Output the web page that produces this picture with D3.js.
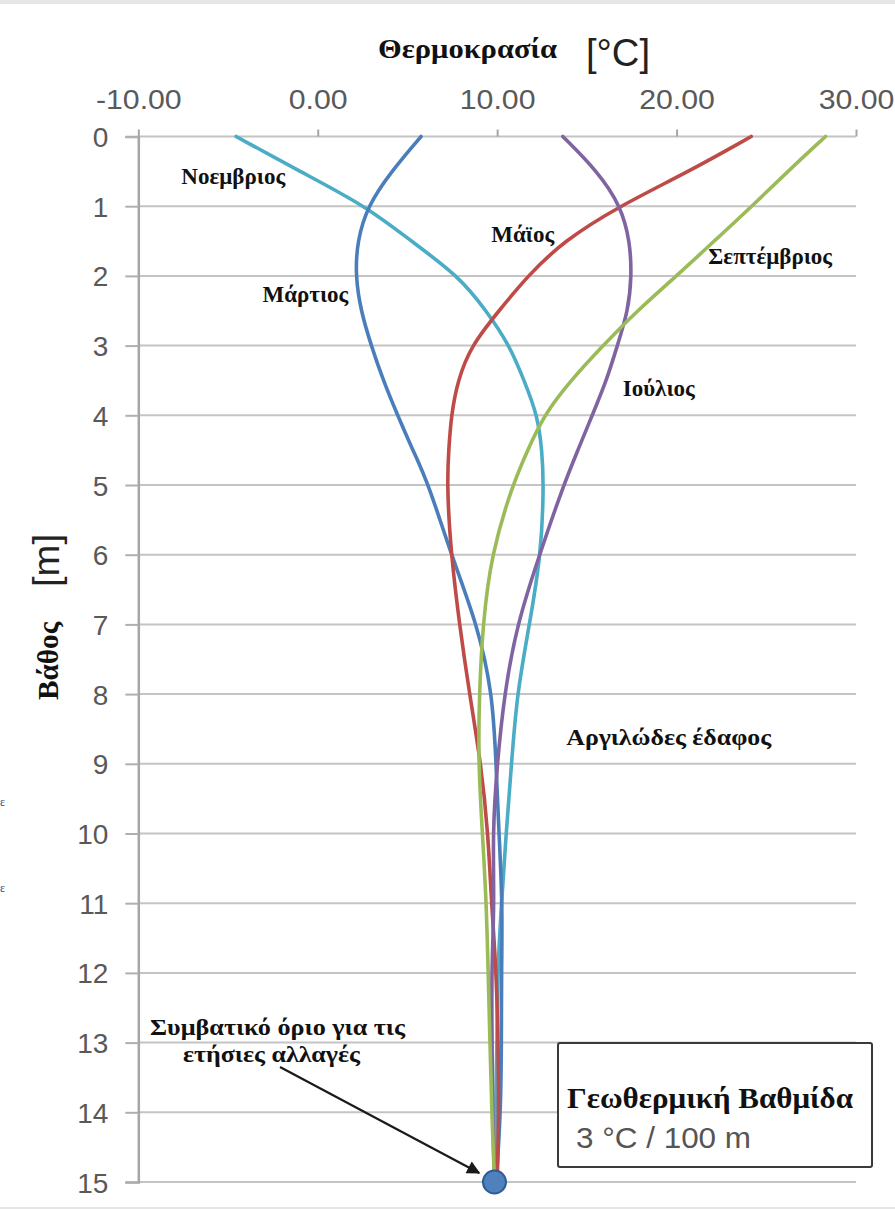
<!DOCTYPE html>
<html>
<head>
<meta charset="utf-8">
<script src="https://cdn.jsdelivr.net/npm/d3@7"></script>
<style>
  body { margin: 0; background: #fff; }
  svg { display: block; }
</style>
</head>
<body>
<div id="chart"></div>
<script>
// depth (m) down the y axis, temperature (°C) along x
const depths = [0, 0.5, 1, 1.5, 2, 2.5, 3, 3.5, 4, 4.5, 5, 6, 7, 8, 9, 10, 11, 12, 13, 14, 15];

const novTemps = [-4.55, -1.0, 2.7, 5.2, 7.85, 9.4, 10.7, 11.5, 12.25, 12.5, 12.6, 12.45, 11.8, 11.1, 10.8, 10.5, 10.24, 10.02, 10.0, 9.9, 9.9];
const marTemps = [5.76, 4.1, 2.77, 2.2, 2.1, 2.4, 2.98, 3.65, 4.45, 5.3, 6.2, 7.43, 8.9, 9.75, 9.94, 10.1, 10.3, 10.24, 10.24, 10.2, 9.95];
const mayTemps = [24.16, 20.7, 16.8, 13.7, 11.7, 10.1, 8.55, 7.8, 7.44, 7.3, 7.2, 7.43, 7.9, 8.46, 9.1, 9.5, 9.68, 9.96, 10.05, 10.1, 10.0];
const julTemps = [13.66, 15.6, 16.9, 17.4, 17.5, 17.3, 16.7, 16.1, 15.3, 14.5, 13.7, 12.36, 11.1, 10.4, 10.0, 9.74, 9.85, 9.68, 9.72, 9.74, 9.85];
const sepTemps = [28.3, 26.2, 24.2, 22.1, 20.0, 17.8, 15.9, 14.1, 12.6, 11.7, 10.85, 9.67, 9.2, 9.0, 8.95, 9.18, 9.4, 9.5, 9.6, 9.7, 9.85];

const seriesNames = ["Νοεμβριος", "Μάρτιος", "Μάϊος", "Ιούλιος", "Σεπτέμβριος"];
const seriesColors = ["#4bacc6", "#4a7ebb", "#be4b48", "#8064a2", "#9bbb59"];
const seriesTemps = [novTemps, marTemps, mayTemps, julTemps, sepTemps];

// where each month's name sits (temp at start of word, depth of baseline)
const labelTemps = [-7.6, -3.08, 9.67, 17.0, 21.77];
const labelDepths = [0.68, 2.37, 1.51, 3.72, 1.83];

const xTicks = [-10, 0, 10, 20, 30];
const yTicks = d3.range(0, 16);

const W = 895, H = 1210;
const serif = "'Liberation Serif', 'Times New Roman', serif";
const sans = "'Liberation Sans', Arial, sans-serif";

const svg = d3.select("#chart").append("svg").attr("width", W).attr("height", H);

const x = d3.scaleLinear().domain([-10, 30]).range([138.3, 856]);
const y = d3.scaleLinear().domain([0, 15]).range([136.5, 1182]);

// faint frame lines of the scanned figure
svg.append("line").attr("x1", 0).attr("x2", W).attr("y1", 2).attr("y2", 2)
  .attr("stroke", "#e6e6e6").attr("stroke-width", 4);
svg.append("line").attr("x1", 0).attr("x2", W).attr("y1", 1208).attr("y2", 1208)
  .attr("stroke", "#e6e6e6").attr("stroke-width", 2);

// horizontal grid
svg.append("g").selectAll("line").data(yTicks).join("line")
  .attr("x1", x(-10)).attr("x2", x(30))
  .attr("y1", d => y(d)).attr("y2", d => y(d))
  .attr("stroke", "#c4c4c4").attr("stroke-width", 2);

// top axis
const xAxisG = svg.append("g").attr("transform", `translate(0,${y(0)})`)
  .call(d3.axisTop(x).tickValues(xTicks).tickFormat(d => d.toFixed(2)).tickSize(7).tickPadding(21));
xAxisG.select(".domain").remove();
xAxisG.selectAll("line").attr("stroke", "#a6a6a6").attr("stroke-width", 2);
xAxisG.selectAll("text").attr("fill", "#595959")
  .style("font-family", sans).style("font-size", "27px")
  .each(function () { d3.select(this).attr("textLength", this.getComputedTextLength() * 1.12).attr("lengthAdjust", "spacingAndGlyphs"); });

// left axis
const yAxisG = svg.append("g").attr("transform", `translate(${x(-10)},0)`)
  .call(d3.axisLeft(y).tickValues(yTicks).tickFormat(d3.format("d")).tickSize(13).tickPadding(17));
yAxisG.select(".domain").attr("stroke", "#a6a6a6").attr("stroke-width", 2.5);
yAxisG.selectAll("line").attr("stroke", "#b0b0b0").attr("stroke-width", 2);
yAxisG.selectAll("text").attr("fill", "#595959").attr("dy", "0.36em")
  .style("font-family", sans).style("font-size", "28px");

// axis titles
svg.append("text").attr("x", 378).attr("y", 58).text("Θερμοκρασία")
  .attr("fill", "#111").attr("textLength", 179).attr("lengthAdjust", "spacingAndGlyphs")
  .style("font-family", serif).style("font-weight", "bold").style("font-size", "27px");
svg.append("text").attr("x", 586).attr("y", 66).text("[°C]")
  .attr("fill", "#222").attr("textLength", 64).attr("lengthAdjust", "spacingAndGlyphs")
  .style("font-family", sans).style("font-size", "38px");

const ytitle = svg.append("g").attr("transform", "translate(58,700) rotate(-90)");
ytitle.append("text").attr("x", 0).attr("y", 0).text("Βάθος")
  .attr("fill", "#111").attr("textLength", 78).attr("lengthAdjust", "spacingAndGlyphs")
  .style("font-family", serif).style("font-weight", "bold").style("font-size", "29px");
ytitle.append("text").attr("x", 113).attr("y", 1).text("[m]")
  .attr("fill", "#222").attr("textLength", 53).attr("lengthAdjust", "spacingAndGlyphs")
  .style("font-family", sans).style("font-size", "37px");

// profiles
const line = d3.line()
  .x(d => x(d[0]))
  .y(d => y(d[1]))
  .curve(d3.curveBasis);

svg.append("g").selectAll("path")
  .data(seriesTemps.map((temps, i) => ({ color: seriesColors[i], pts: temps.map((t, j) => [t, depths[j]]) })))
  .join("path")
  .attr("d", d => line(d.pts))
  .attr("fill", "none")
  .attr("stroke", d => d.color)
  .attr("stroke-width", 3.6)
  .attr("stroke-linejoin", "round")
  .attr("stroke-linecap", "round");

// month labels
svg.append("g").selectAll("text").data(seriesNames).join("text")
  .attr("x", (d, i) => x(labelTemps[i]))
  .attr("y", (d, i) => y(labelDepths[i]))
  .text(d => d)
  .attr("fill", "#111")
  .style("font-family", serif).style("font-weight", "bold").style("font-size", "23px");

svg.append("text").attr("x", x(13.85)).attr("y", y(8.73)).text("Αργιλώδες έδαφος")
  .attr("fill", "#111").attr("textLength", 205).attr("lengthAdjust", "spacingAndGlyphs")
  .style("font-family", serif).style("font-weight", "bold").style("font-size", "24px");

// stray glyphs at the left margin of the scan
svg.append("g").selectAll("text").data([801, 887]).join("text")
  .attr("x", 0).attr("y", d => d + 5).text("ε")
  .attr("fill", "#3a4a7a").style("font-family", serif).style("font-size", "12px");

// annotation: conventional limit of yearly change
svg.append("text").attr("x", 150).attr("y", 1035).text("Συμβατικό όριο για τις")
  .attr("fill", "#111").attr("textLength", 255).attr("lengthAdjust", "spacingAndGlyphs")
  .style("font-family", serif).style("font-weight", "bold").style("font-size", "24px");
svg.append("text").attr("x", 183).attr("y", 1062).text("ετήσιες αλλαγές")
  .attr("fill", "#111").attr("textLength", 177).attr("lengthAdjust", "spacingAndGlyphs")
  .style("font-family", serif).style("font-weight", "bold").style("font-size", "24px");

svg.append("defs").append("marker")
  .attr("id", "arrow").attr("viewBox", "0 0 10 10").attr("refX", 9).attr("refY", 5)
  .attr("markerWidth", 8).attr("markerHeight", 6).attr("orient", "auto")
  .attr("markerUnits", "strokeWidth")
  .append("path").attr("d", "M0,0 L10,5 L0,10 Z").attr("fill", "#1a1a1a");

svg.append("line")
  .attr("x1", 280).attr("y1", 1067)
  .attr("x2", x(10) - 18).attr("y2", y(15) - 9)
  .attr("stroke", "#1a1a1a").attr("stroke-width", 2.2)
  .attr("marker-end", "url(#arrow)");

svg.append("circle")
  .attr("cx", x(9.85)).attr("cy", y(15)).attr("r", 11.5)
  .attr("fill", "#4f81bd").attr("stroke", "#2e5b94").attr("stroke-width", 2);

// gradient box
svg.append("rect").attr("x", 558).attr("y", 1043).attr("width", 314).attr("height", 124)
  .attr("rx", 2).attr("fill", "#fff").attr("stroke", "#3a3a3a").attr("stroke-width", 2);
svg.append("text").attr("x", 567).attr("y", 1108).text("Γεωθερμική Βαθμίδα")
  .attr("fill", "#111").attr("textLength", 286).attr("lengthAdjust", "spacingAndGlyphs")
  .style("font-family", serif).style("font-weight", "bold").style("font-size", "30px");
svg.append("text").attr("x", 576).attr("y", 1148).text("3 °C / 100 m")
  .attr("fill", "#555").attr("textLength", 175).attr("lengthAdjust", "spacingAndGlyphs")
  .style("font-family", sans).style("font-size", "29px");
</script>
</body>
</html>
